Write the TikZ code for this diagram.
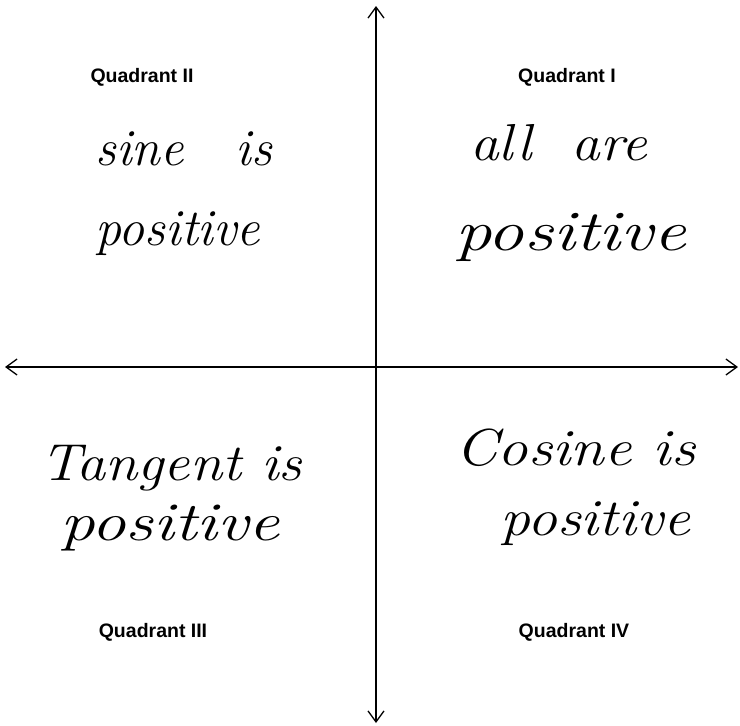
\documentclass[tikz,border=0pt]{standalone}
\usepackage{fontspec}
\usepackage{graphicx}
\setmainfont{Liberation Sans}
\newfontfamily\handfont{Latin Modern Roman}
\usetikzlibrary{arrows.meta}
\tikzset{
  axis/.style={line width=1.2pt, {Straight Barb[length=11pt,width=16pt,line width=1.3pt]}-{Straight Barb[length=11pt,width=16pt,line width=1.3pt]}},
  qlabel/.style={font=\fontsize{19.5}{22}\selectfont\bfseries, inner sep=0pt},
  hand/.style={font=\handfont\itshape\fontsize{52}{56}\selectfont, inner sep=0pt, anchor=base west}
}
\begin{document}
\begin{tikzpicture}[x=1pt,y=-1pt]
\useasboundingbox (0,0) rectangle (740,726);
\coordinate (top) at (376,6);
\coordinate (bot) at (376,723);
\coordinate (lft) at (5,367);
\coordinate (rgt) at (738,367);
\draw[axis] (bot) -- (top);
\draw[axis] (lft) -- (rgt);
\node[qlabel] (q2) at (142,77) {Quadrant II};
\node[qlabel] (q1) at (567,77) {Quadrant I};
\node[qlabel] (q3) at (153,632) {Quadrant III};
\node[qlabel] (q4) at (574,632) {Quadrant IV};
\node[hand] (t2a) at (95,165) {sine\quad is};
\node[hand] (t2b) at (95,245) {positive};
\node[hand] (t1a) at (470,160) {\scalebox{1.1}[1]{all\ \ are}};
\node[hand] (t1b) at (455,250) {\scalebox{1.4}[1.1]{positive}};
\node[hand] (t3a) at (40,480) {\scalebox{1.12}[1]{Tangent is}};
\node[hand] (t3b) at (60,540) {\scalebox{1.33}[1.05]{positive}};
\node[hand] (t4a) at (455,465) {\scalebox{1.17}[1]{Cosine\ is}};
\node[hand] (t4b) at (500,535) {\scalebox{1.15}[1]{positive}};
\end{tikzpicture}
\end{document}
